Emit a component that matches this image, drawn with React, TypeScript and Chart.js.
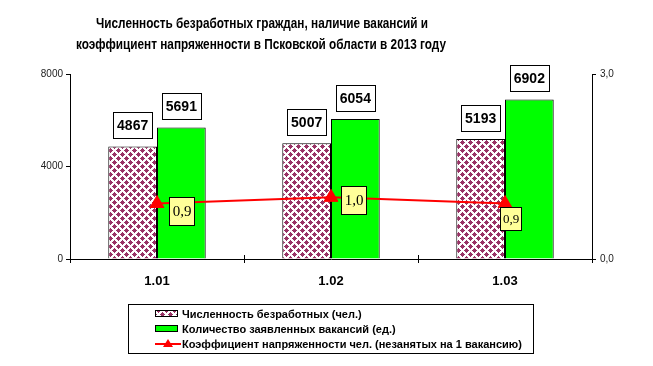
import React, { useEffect, useRef } from 'react';
import { Chart, registerables } from 'chart.js';

Chart.register(...registerables);

const categories = ['1.01', '1.02', '1.03'];
const unemployed = [4867, 5007, 5193];
const vacancies = [5691, 6054, 6902];
const tensionRatio = [0.9, 1.0, 0.9];
const tensionLabels = ['0,9', '1,0', '0,9'];
const leftAxisMax = 8000;
const leftAxisStep = 4000;
const rightAxisMax = 3;
const rightAxisStep = 3;
const titleLines = [
  'Численность безработных граждан, наличие вакансий и',
  'коэффициент напряженности в Псковской области в 2013 году',
];
const legendLabels = [
  'Численность безработных (чел.)',
  'Количество заявленных вакансий (ед.)',
  'Коэффициент напряженности чел. (незанятых на 1 вакансию)',
];

const MAROON = '#993366';
const GREEN = '#00FF00';
const RED = '#FF0000';

function makePattern(): CanvasPattern | string {
  const c = document.createElement('canvas');
  c.width = 8;
  c.height = 8;
  const g = c.getContext('2d');
  if (!g) return MAROON;
  g.fillStyle = '#FFFFFF';
  g.fillRect(0, 0, 8, 8);
  g.fillStyle = MAROON;
  const diamond = (cx: number, cy: number) => {
    const rows: [number, number][] = [
      [0, 0],
      [-1, 1],
      [-2, 2],
      [-1, 1],
      [0, 0],
    ];
    rows.forEach(([a, b], k) => {
      const yy = (cy - 2 + k + 8) % 8;
      for (let xx = cx + a; xx <= cx + b; xx++) {
        g.fillRect((xx + 8) % 8, yy, 1, 1);
      }
    });
  };
  diamond(2, 2);
  diamond(6, 6);
  const p = g.createPattern(c, 'repeat');
  return p || MAROON;
}

export default function App() {
  const ref = useRef<HTMLCanvasElement | null>(null);

  useEffect(() => {
    document.body.style.margin = '0';
    const canvas = ref.current;
    if (!canvas) return;
    const pattern = makePattern();

    const lineLabelOffsets = [
      { dx: 24, dy: 7, w: 25, h: 28, size: 15 },
      { dx: 22, dy: 3, w: 25, h: 28, size: 15 },
      { dx: 5, dy: 15, w: 21, h: 23, size: 13 },
    ];

    const decorPlugin = {
      id: 'decor',
      afterDatasetsDraw(chart: any) {
        const ctx = chart.ctx as CanvasRenderingContext2D;
        ctx.save();
        ctx.font = 'bold 14px "Liberation Sans", Arial, sans-serif';
        ctx.textAlign = 'center';
        ctx.textBaseline = 'middle';
        [0, 1].forEach((di) => {
          const meta = chart.getDatasetMeta(di);
          const values = chart.data.datasets[di].data as number[];
          meta.data.forEach((el: any, i: number) => {
            const txt = String(values[i]);
            const tw = ctx.measureText(txt).width;
            const w = Math.round(tw + 8);
            const h = 26;
            const x = Math.round(el.x - w / 2);
            const y = Math.round(el.y - 8 - h);
            ctx.fillStyle = '#FFFFFF';
            ctx.fillRect(x, y, w, h);
            ctx.strokeStyle = '#000000';
            ctx.lineWidth = 1;
            ctx.strokeRect(x + 0.5, y + 0.5, w, h);
            ctx.fillStyle = '#000000';
            ctx.fillText(txt, el.x, y + h / 2 + 1);
          });
        });
        const lmeta = chart.getDatasetMeta(2);
        lmeta.data.forEach((el: any, i: number) => {
          const o = lineLabelOffsets[i];
          const cx = el.x + o.dx;
          const cy = el.y + o.dy;
          const x = Math.round(cx - o.w / 2);
          const y = Math.round(cy - o.h / 2);
          ctx.fillStyle = '#FFFF99';
          ctx.fillRect(x, y, o.w, o.h);
          ctx.strokeStyle = '#000000';
          ctx.lineWidth = 1;
          ctx.strokeRect(x + 0.5, y + 0.5, o.w, o.h);
          ctx.fillStyle = '#000000';
          ctx.font = `${o.size}px "Liberation Serif", "Times New Roman", serif`;
          ctx.textAlign = 'center';
          ctx.textBaseline = 'middle';
          ctx.fillText(tensionLabels[i], x + o.w / 2 + 0.5, y + o.h / 2 + 1);
        });
        ctx.restore();
      },
      afterDraw(chart: any) {
        const ctx = chart.ctx as CanvasRenderingContext2D;
        const area = chart.chartArea;
        const xs = chart.scales.x;
        ctx.save();
        const n = categories.length;
        const cw = (area.right - area.left) / n;
        ctx.strokeStyle = '#000000';
        ctx.lineWidth = 1;
        for (let i = 0; i <= n; i++) {
          const bx = Math.round(xs.left + cw * i) + 0.5;
          ctx.beginPath();
          ctx.moveTo(bx, area.bottom - 4);
          ctx.lineTo(bx, area.bottom + 4);
          ctx.stroke();
        }
        ctx.fillStyle = '#000000';
        ctx.font = 'bold 15px "Liberation Sans", Arial, sans-serif';
        ctx.textAlign = 'center';
        ctx.textBaseline = 'alphabetic';
        ctx.fillText(titleLines[0], 262, 28, 332);
        ctx.fillText(titleLines[1], 261, 49, 370);
        const lx = 128, ly = 304, lw = 405, lh = 49;
        ctx.fillStyle = '#FFFFFF';
        ctx.fillRect(lx, ly, lw, lh);
        ctx.strokeStyle = '#000000';
        ctx.strokeRect(lx + 0.5, ly + 0.5, lw, lh);
        const rows = [314, 329, 344];
        ctx.fillStyle = pattern as any;
        ctx.fillRect(155, 310, 22, 7);
        ctx.strokeRect(155.5, 310.5, 22, 6);
        ctx.fillStyle = GREEN;
        ctx.fillRect(155, 325, 22, 7);
        ctx.strokeRect(155.5, 325.5, 22, 6);
        ctx.strokeStyle = RED;
        ctx.lineWidth = 2;
        ctx.beginPath();
        ctx.moveTo(155, rows[2]);
        ctx.lineTo(181, rows[2]);
        ctx.stroke();
        ctx.fillStyle = RED;
        ctx.beginPath();
        ctx.moveTo(168, rows[2] - 5);
        ctx.lineTo(173, rows[2] + 3);
        ctx.lineTo(163, rows[2] + 3);
        ctx.closePath();
        ctx.fill();
        ctx.fillStyle = '#000000';
        ctx.font = 'bold 11px "Liberation Sans", Arial, sans-serif';
        ctx.textAlign = 'left';
        ctx.textBaseline = 'middle';
        const maxW = [187, 222, 348];
        legendLabels.forEach((t, i) => {
          ctx.fillText(t, 182, rows[i] + 1, maxW[i]);
        });
        ctx.restore();
      },
    };

    const chart = new Chart(canvas, {
      type: 'bar',
      data: {
        labels: categories,
        datasets: [
          {
            type: 'bar',
            label: legendLabels[0],
            data: unemployed,
            backgroundColor: pattern as any,
            borderColor: '#000000',
            borderWidth: 1,
            yAxisID: 'y',
            order: 1,
            barPercentage: 1,
            categoryPercentage: 0.56,
          },
          {
            type: 'bar',
            label: legendLabels[1],
            data: vacancies,
            backgroundColor: GREEN,
            borderColor: '#000000',
            borderWidth: 1,
            yAxisID: 'y',
            order: 1,
            barPercentage: 1,
            categoryPercentage: 0.56,
          },
          {
            type: 'line',
            label: legendLabels[2],
            data: tensionRatio,
            borderColor: RED,
            borderWidth: 2,
            backgroundColor: RED,
            pointStyle: 'triangle',
            pointRadius: 8,
            pointBackgroundColor: RED,
            pointBorderColor: RED,
            pointBorderWidth: 1,
            tension: 0,
            yAxisID: 'y1',
            order: 0,
          } as any,
        ],
      },
      options: {
        responsive: false,
        animation: false,
        devicePixelRatio: 1,
        layout: { padding: { top: 74, bottom: 0, left: 0, right: 0 } },
        plugins: {
          legend: { display: false },
          title: { display: false },
          tooltip: { enabled: false },
        },
        scales: {
          x: {
            grid: { display: false, drawTicks: false },
            border: { display: true, color: '#000000', width: 1 },
            ticks: {
              color: '#000000',
              font: { family: '"Liberation Sans", Arial, sans-serif', size: 13, weight: 'bold' },
              padding: 15,
            },
            afterFit(scale: any) {
              scale.height = 107;
            },
          },
          y: {
            position: 'left',
            min: 0,
            max: leftAxisMax,
            grid: { drawOnChartArea: false, drawTicks: true, tickLength: 4, color: '#000000' },
            border: { display: true, color: '#000000', width: 1 },
            ticks: {
              stepSize: leftAxisStep,
              color: '#222222',
              padding: 3,
              font: { family: '"Liberation Sans", Arial, sans-serif', size: 10 },
              callback: (v: any) => String(v),
            },
            afterFit(scale: any) {
              scale.width = 70;
            },
          },
          y1: {
            position: 'right',
            min: 0,
            max: rightAxisMax,
            grid: { drawOnChartArea: false, drawTicks: true, tickLength: 4, color: '#000000' },
            border: { display: true, color: '#000000', width: 1 },
            ticks: {
              stepSize: rightAxisStep,
              color: '#222222',
              padding: 4,
              font: { family: '"Liberation Sans", Arial, sans-serif', size: 10 },
              callback: (v: any) => Number(v).toFixed(1).replace('.', ','),
            },
            afterFit(scale: any) {
              scale.width = 61;
            },
          },
        },
      },
      plugins: [decorPlugin],
    });

    return () => {
      chart.destroy();
    };
  }, []);

  return <canvas ref={ref} width={653} height={366} style={{ display: 'block' }} />;
}
